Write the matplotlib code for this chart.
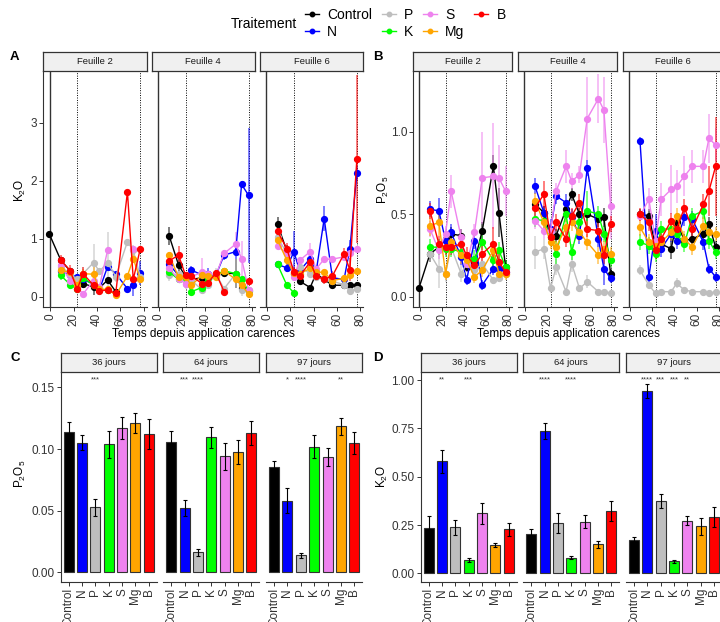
import numpy as np
import matplotlib
matplotlib.use('Agg')
import matplotlib.pyplot as plt
from matplotlib.lines import Line2D

plt.rcParams['font.family'] = ['Liberation Sans', 'DejaVu Sans']
plt.rcParams['mathtext.default'] = 'regular'

nan = np.nan

# Traitements et couleurs
traitements = ['Control', 'N', 'P', 'K', 'S', 'Mg', 'B']
couleurs = ['black', '#0000FF', '#BEBEBE', '#00FF00', '#EE82EE', '#FFA500', '#FF0000']

# Temps (jours depuis application carences)
temps = [-1, 9, 17, 23, 28, 37, 42, 49, 56, 66, 71, 77]

# ---- A : K2O ----
k2o_f2 = {
    'Control': [1.09, 0.63, 0.45, 0.18, 0.23, 0.17, 0.15, 0.29, 0.09, nan, nan, nan],
    'N': [nan, 0.44, 0.38, 0.34, 0.30, 0.22, 0.12, 0.52, 0.40, 0.14, 0.20, 0.41],
    'P': [nan, 0.52, 0.40, 0.30, 0.40, 0.59, 0.44, 0.59, 0.35, 0.95, 0.80, 0.35],
    'K': [nan, 0.37, 0.21, 0.13, 0.33, 0.20, 0.12, 0.11, nan, nan, nan, nan],
    'S': [nan, 0.55, 0.27, 0.17, 0.05, 0.28, 0.17, 0.80, nan, nan, 0.83, nan],
    'Mg': [nan, 0.46, 0.42, 0.20, 0.40, 0.39, 0.13, 0.13, 0.03, 0.36, 0.66, 0.30],
    'B': [nan, 0.63, 0.45, 0.13, 0.40, 0.20, 0.10, 0.12, 0.06, 1.81, 0.30, 0.83],
}
k2o_f2_err = {
    'Control': [0.02, 0.04, 0.04, 0.05, 0.08, 0.14, 0.04, 0.04, 0.03, nan, nan, nan],
    'N': [nan, 0.06, 0.05, 0.05, 0.05, 0.05, 0.03, 0.06, 0.03, 0.04, 0.18, 0.20],
    'P': [nan, 0.06, 0.05, 0.06, 0.12, 0.32, 0.05, 0.52, 0.10, 0.05, 0.10, 0.05],
    'K': [nan, 0.08, 0.05, 0.04, 0.05, 0.05, 0.03, 0.03, nan, nan, nan, nan],
    'S': [nan, 0.05, 0.05, 0.05, 0.04, 0.06, 0.05, 0.06, nan, nan, 0.05, nan],
    'Mg': [nan, 0.06, 0.05, 0.05, 0.08, 0.12, 0.04, 0.04, 0.02, 0.04, 0.08, 0.05],
    'B': [nan, 0.10, 0.10, 0.06, 0.12, 0.06, 0.04, 0.04, 0.03, 0.04, 0.05, 0.05],
}
k2o_f4 = {
    'Control': [nan, 1.05, 0.55, 0.35, 0.30, 0.33, 0.35, 0.40, 0.41, 0.40, 0.16, nan],
    'N': [nan, 0.56, 0.37, 0.33, 0.46, 0.38, 0.40, 0.37, 0.72, 0.78, 1.94, 1.75],
    'P': [nan, 0.37, 0.40, 0.23, 0.29, 0.12, 0.20, 0.40, 0.14, 0.40, 0.12, 0.12],
    'K': [nan, 0.43, 0.30, 0.32, 0.09, 0.16, 0.33, 0.37, 0.45, 0.40, 0.30, 0.10],
    'S': [nan, 0.49, 0.30, 0.23, 0.35, 0.42, 0.40, 0.37, 0.75, 0.91, 0.66, 0.12],
    'Mg': [nan, 0.72, 0.34, 0.34, 0.20, 0.37, 0.36, 0.34, 0.45, 0.30, 0.20, 0.05],
    'B': [nan, 0.62, 0.72, 0.37, 0.36, 0.23, 0.24, 0.41, 0.09, nan, nan, 0.28],
}
k2o_f4_err = {
    'Control': [nan, 0.15, 0.10, 0.05, 0.05, 0.05, 0.05, 0.05, 0.05, 0.25, 0.03, nan],
    'N': [nan, 0.05, 0.05, 0.05, 0.08, 0.06, 0.10, 0.06, 0.08, 0.12, 0.05, 1.17],
    'P': [nan, 0.10, 0.05, 0.10, 0.05, 0.05, 0.05, 0.10, 0.05, 0.25, 0.10, 0.05],
    'K': [nan, 0.05, 0.05, 0.05, 0.04, 0.04, 0.05, 0.05, 0.05, 0.05, 0.05, 0.04],
    'S': [nan, 0.05, 0.05, 0.05, 0.05, 0.25, 0.05, 0.05, 0.05, 0.21, 0.30, 0.05],
    'Mg': [nan, 0.05, 0.05, 0.05, 0.05, 0.05, 0.05, 0.05, 0.05, 0.05, 0.05, 0.03],
    'B': [nan, 0.05, 0.15, 0.05, 0.05, 0.05, 0.05, 0.05, 0.06, nan, nan, 0.05],
}
k2o_f6 = {
    'Control': [nan, 1.25, 0.79, 0.40, 0.27, 0.16, 0.40, 0.30, 0.20, 0.20, 0.21, 0.21],
    'N': [nan, 0.56, 0.50, 0.78, 0.45, 0.66, 0.42, 1.35, 0.33, 0.30, 0.83, 2.14],
    'P': [nan, 1.03, 0.75, 0.41, 0.52, 0.40, 0.35, 0.30, 0.27, 0.21, 0.10, 0.14],
    'K': [nan, 0.56, 0.20, 0.07, nan, nan, nan, nan, nan, nan, nan, nan],
    'S': [nan, 0.88, 0.75, 0.34, 0.63, 0.78, 0.48, 0.65, 0.65, 0.69, 0.75, 0.82],
    'Mg': [nan, 0.98, 0.63, 0.41, 0.40, 0.49, 0.43, 0.42, 0.28, 0.32, 0.37, 0.44],
    'B': [nan, 1.13, 0.83, 0.43, 0.36, 0.60, 0.36, 0.30, 0.36, 0.74, 0.47, 2.38],
}
k2o_f6_err = {
    'Control': [nan, 0.12, 0.10, 0.05, 0.05, 0.03, 0.05, 0.05, 0.04, 0.03, 0.03, 0.03],
    'N': [nan, 0.05, 0.08, 0.35, 0.05, 0.07, 0.05, 0.22, 0.05, 0.05, 0.15, 0.12],
    'P': [nan, 0.10, 0.10, 0.05, 0.05, 0.05, 0.05, 0.05, 0.05, 0.05, 0.05, 0.05],
    'K': [nan, 0.05, 0.05, 0.03, nan, nan, nan, nan, nan, nan, nan, nan],
    'S': [nan, 0.05, 0.05, 0.05, 0.05, 0.15, 0.05, 0.05, 0.05, 0.05, 0.10, 0.05],
    'Mg': [nan, 0.05, 0.08, 0.05, 0.05, 0.05, 0.05, 0.05, 0.05, 0.05, 0.05, 0.05],
    'B': [nan, 0.10, 0.10, 0.08, 0.08, 0.08, 0.08, 0.08, 0.08, 0.10, 0.20, 1.45],
}

# ---- B : P2O5 ----
p2o5_f2 = {
    'Control': [0.05, 0.26, 0.30, 0.35, 0.38, 0.37, 0.18, 0.21, 0.40, 0.79, 0.51, 0.18],
    'N': [nan, 0.53, 0.52, 0.34, 0.39, 0.24, 0.10, 0.34, 0.07, 0.17, 0.17, 0.15],
    'P': [nan, 0.26, 0.17, 0.14, 0.30, 0.14, 0.20, 0.16, 0.20, 0.10, 0.11, 0.14],
    'K': [nan, 0.30, 0.30, 0.29, 0.29, 0.27, 0.23, 0.23, 0.33, 0.22, 0.28, 0.18],
    'S': [nan, 0.41, 0.28, 0.38, 0.64, 0.36, 0.20, 0.39, 0.72, 0.73, 0.72, 0.64],
    'Mg': [nan, 0.43, 0.45, 0.14, 0.33, 0.25, 0.22, 0.12, 0.16, 0.28, 0.14, 0.14],
    'B': [nan, 0.52, 0.32, 0.30, 0.30, 0.32, 0.25, 0.19, 0.26, 0.32, 0.21, 0.15],
}
p2o5_f2_err = {
    'Control': [0.01, 0.05, 0.04, 0.04, 0.04, 0.04, 0.03, 0.03, 0.05, 0.07, 0.15, 0.04],
    'N': [nan, 0.05, 0.08, 0.05, 0.05, 0.05, 0.03, 0.05, 0.03, 0.04, 0.04, 0.03],
    'P': [nan, 0.05, 0.12, 0.05, 0.05, 0.05, 0.05, 0.05, 0.05, 0.02, 0.02, 0.03],
    'K': [nan, 0.05, 0.05, 0.05, 0.05, 0.05, 0.04, 0.05, 0.05, 0.05, 0.05, 0.04],
    'S': [nan, 0.05, 0.05, 0.05, 0.10, 0.05, 0.05, 0.05, 0.28, 0.32, 0.20, 0.15],
    'Mg': [nan, 0.06, 0.08, 0.04, 0.05, 0.05, 0.05, 0.04, 0.04, 0.05, 0.04, 0.04],
    'B': [nan, 0.05, 0.05, 0.05, 0.05, 0.05, 0.05, 0.05, 0.05, 0.10, 0.05, 0.04],
}
p2o5_f4 = {
    'Control': [nan, 0.56, 0.51, 0.36, 0.37, 0.53, 0.62, 0.50, 0.50, 0.47, 0.48, 0.14],
    'N': [nan, 0.67, 0.51, 0.41, 0.61, 0.57, 0.48, 0.37, 0.78, 0.35, 0.17, 0.11],
    'P': [nan, 0.27, 0.29, 0.05, 0.18, 0.03, 0.20, 0.05, 0.09, 0.03, 0.03, 0.02],
    'K': [nan, 0.47, 0.46, 0.36, 0.26, 0.50, 0.27, 0.45, 0.52, 0.50, 0.38, 0.22],
    'S': [nan, 0.46, 0.40, 0.40, 0.64, 0.79, 0.70, 0.74, 1.08, 1.20, 1.13, 0.55],
    'Mg': [nan, 0.58, 0.45, 0.33, 0.30, 0.42, 0.45, 0.39, 0.33, 0.25, 0.29, 0.26],
    'B': [nan, 0.54, 0.62, 0.36, 0.45, 0.35, 0.49, 0.57, 0.41, 0.40, 0.25, 0.44],
}
p2o5_f4_err = {
    'Control': [nan, 0.04, 0.04, 0.04, 0.04, 0.04, 0.04, 0.04, 0.04, 0.05, 0.06, 0.03],
    'N': [nan, 0.05, 0.04, 0.06, 0.05, 0.05, 0.05, 0.05, 0.05, 0.05, 0.10, 0.03],
    'P': [nan, 0.10, 0.06, 0.03, 0.05, 0.02, 0.05, 0.02, 0.04, 0.01, 0.01, 0.01],
    'K': [nan, 0.05, 0.05, 0.05, 0.08, 0.05, 0.05, 0.05, 0.12, 0.05, 0.05, 0.04],
    'S': [nan, 0.05, 0.05, 0.05, 0.05, 0.10, 0.05, 0.05, 0.25, 0.15, 0.20, 0.20],
    'Mg': [nan, 0.05, 0.05, 0.04, 0.04, 0.05, 0.05, 0.05, 0.05, 0.05, 0.05, 0.04],
    'B': [nan, 0.05, 0.08, 0.05, 0.05, 0.05, 0.05, 0.05, 0.05, 0.05, 0.05, 0.05],
}
p2o5_f6 = {
    'Control': [nan, 0.50, 0.49, 0.30, 0.32, 0.29, 0.45, 0.34, 0.35, 0.38, 0.44, 0.30],
    'N': [nan, 0.945, 0.12, 0.40, 0.29, 0.38, 0.34, 0.48, 0.47, 0.33, 0.17, 0.12],
    'P': [nan, 0.16, 0.07, 0.02, 0.03, 0.03, 0.08, 0.04, 0.03, 0.03, 0.02, 0.03],
    'K': [nan, 0.33, 0.31, 0.26, 0.41, 0.41, 0.38, 0.32, 0.49, 0.52, 0.34, 0.27],
    'S': [nan, 0.49, 0.59, 0.34, 0.59, 0.65, 0.67, 0.73, 0.79, 0.79, 0.96, 0.92],
    'Mg': [nan, 0.42, 0.33, 0.31, 0.33, 0.39, 0.49, 0.35, 0.30, 0.43, 0.39, 0.38],
    'B': [nan, 0.50, 0.45, 0.28, 0.35, 0.46, 0.41, 0.54, 0.41, 0.56, 0.64, 0.79],
}
p2o5_f6_err = {
    'Control': [nan, 0.03, 0.04, 0.04, 0.04, 0.06, 0.06, 0.04, 0.04, 0.04, 0.04, 0.04],
    'N': [nan, 0.02, 0.05, 0.10, 0.05, 0.05, 0.05, 0.05, 0.05, 0.05, 0.03, 0.03],
    'P': [nan, 0.03, 0.02, 0.01, 0.01, 0.01, 0.03, 0.01, 0.01, 0.01, 0.01, 0.01],
    'K': [nan, 0.05, 0.05, 0.05, 0.05, 0.05, 0.05, 0.05, 0.05, 0.05, 0.05, 0.04],
    'S': [nan, 0.03, 0.07, 0.05, 0.10, 0.15, 0.10, 0.12, 0.10, 0.10, 0.15, 0.10],
    'Mg': [nan, 0.05, 0.05, 0.05, 0.05, 0.05, 0.05, 0.05, 0.05, 0.05, 0.05, 0.04],
    'B': [nan, 0.04, 0.05, 0.05, 0.05, 0.05, 0.05, 0.05, 0.05, 0.06, 0.15, 0.30],
}

# ---- C : P2O5 a 36, 64, 97 jours ----
jours = ['36 jours', '64 jours', '97 jours']
p2o5_bar = [[0.114, 0.105, 0.0525, 0.104, 0.117, 0.121, 0.112],
            [0.106, 0.052, 0.016, 0.1096, 0.094, 0.0975, 0.113],
            [0.085, 0.058, 0.0135, 0.102, 0.0935, 0.1185, 0.105]]
p2o5_bar_err = [[0.008, 0.006, 0.007, 0.011, 0.0086, 0.008, 0.012],
                [0.0088, 0.0063, 0.003, 0.0086, 0.011, 0.010, 0.0094],
                [0.0054, 0.010, 0.0024, 0.0094, 0.0075, 0.007, 0.0088]]
p2o5_stars = [['', '', '***', '', '', '', ''],
              ['', '***', '****', '', '', '', ''],
              ['', '*', '****', '', '', '**', '']]

# ---- D : K2O a 36, 64, 97 jours ----
k2o_bar = [[0.236, 0.579, 0.238, 0.067, 0.31, 0.145, 0.228],
           [0.205, 0.736, 0.26, 0.081, 0.267, 0.15, 0.324],
           [0.172, 0.943, 0.374, 0.062, 0.272, 0.243, 0.29]]
k2o_bar_err = [[0.063, 0.059, 0.039, 0.010, 0.053, 0.010, 0.034],
               [0.024, 0.043, 0.050, 0.009, 0.034, 0.017, 0.052],
               [0.017, 0.036, 0.037, 0.009, 0.024, 0.045, 0.052]]
k2o_stars = [['', '**', '', '***', '', '', ''],
             ['', '****', '', '****', '', '', ''],
             ['', '****', '***', '***', '**', '', '']]

W, H = 720, 622
fig = plt.figure(figsize=(W / 100, H / 100), dpi=100)


def axes_px(x0, y0, x1, y1):
    return fig.add_axes([x0 / W, 1 - y1 / H, (x1 - x0) / W, (y1 - y0) / H])


def strip(x0, y0, x1, y1, texte):
    s = axes_px(x0, y0, x1, y1)
    s.set_facecolor('#f0f0f0')
    s.set_xticks([])
    s.set_yticks([])
    for sp in s.spines.values():
        sp.set_color('#333333')
        sp.set_linewidth(0.9)
    s.text(0.5, 0.5, texte, ha='center', va='center', fontsize=6.8, color='#1a1a1a')


def style_axes(ax, premier):
    ax.spines['top'].set_visible(False)
    ax.spines['right'].set_visible(False)
    ax.spines['bottom'].set_color('#333333')
    ax.spines['left'].set_color('#333333')
    ax.tick_params(length=3, width=0.7, color='#333333', labelsize=8.5, labelcolor='#333333', pad=1.5)
    if not premier:
        ax.spines['left'].set_visible(False)
        ax.tick_params(axis='y', left=False, labelleft=False)


def facette_ligne(ax, vals, errs, ylim, yticks, ylabels, premier):
    ax.axvline(-0.5, color='#333333', lw=1.0, zorder=1)
    ax.axvline(23, color='black', lw=0.7, ls=(0, (1, 1.5)), zorder=1)
    ax.axvline(77, color='black', lw=0.7, ls=(0, (1, 1.5)), zorder=1)
    t = np.array(temps, float)
    for nom, c in zip(traitements, couleurs):
        y = np.array(vals[nom], float)
        e = np.array(errs[nom], float)
        ok = ~np.isnan(y)
        ax.vlines(t[ok], (y - e)[ok], (y + e)[ok], color=c, lw=1.3, alpha=0.55, zorder=2)
        ax.plot(t, y, '-o', color=c, ms=4.2, lw=1.0, zorder=3)
    ax.set_xlim(-6, 82.5)
    ax.set_ylim(*ylim)
    ax.set_xticks([0, 20, 40, 60, 80])
    ax.set_xticklabels(['0', '20', '40', '60', '80'], rotation=90)
    ax.set_yticks(yticks)
    ax.set_yticklabels(ylabels)
    style_axes(ax, premier)


def facette_barre(ax, vals, errs, stars, ylim, star_y, yticks, ylabels, premier):
    x = np.arange(1, 8)
    ax.bar(x, vals, width=0.75, color=couleurs, edgecolor='#333333', linewidth=0.8, zorder=2)
    ax.errorbar(x, vals, yerr=errs, fmt='none', ecolor='black', elinewidth=0.8, capsize=1.2,
                capthick=0.8, zorder=3)
    for xi, s in zip(x, stars):
        if s:
            ax.text(xi, star_y, s, ha='center', va='center', fontsize=5.5, color='#333333')
    ax.set_xlim(0.4, 7.6)
    ax.set_ylim(*ylim)
    ax.set_xticks(x)
    ax.set_xticklabels(traitements, rotation=90, va='top')
    ax.set_yticks(yticks)
    ax.set_yticklabels(ylabels)
    style_axes(ax, premier)


# Panels A et B
cols_a = [(43.3, 146.7), (151.7, 255.0), (260.0, 363.3)]
cols_b = [(413.3, 511.7), (518.3, 616.7), (623.3, 721.7)]
feuilles = ['Feuille 2', 'Feuille 4', 'Feuille 6']
donnees_a = [(k2o_f2, k2o_f2_err), (k2o_f4, k2o_f4_err), (k2o_f6, k2o_f6_err)]
donnees_b = [(p2o5_f2, p2o5_f2_err), (p2o5_f4, p2o5_f4_err), (p2o5_f6, p2o5_f6_err)]
for i in range(3):
    x0, x1 = cols_a[i]
    ax = axes_px(x0, 70.7, x1, 306.7)
    facette_ligne(ax, donnees_a[i][0], donnees_a[i][1], (-0.17, 3.9),
                  [0, 1, 2, 3], ['0', '1', '2', '3'], i == 0)
    strip(x0, 52.0, x1, 70.7, feuilles[i])
    x0, x1 = cols_b[i]
    ax = axes_px(x0, 70.7, x1, 306.7)
    facette_ligne(ax, donnees_b[i][0], donnees_b[i][1], (-0.061, 1.37),
                  [0, 0.5, 1.0], ['0.0', '0.5', '1.0'], i == 0)
    strip(x0, 52.0, x1, 70.7, feuilles[i])

# Panels C et D
cols_c = [(60.7, 156.7), (163.3, 259.3), (266.0, 362.3)]
cols_d = [(420.7, 516.7), (523.3, 619.3), (626.0, 722.0)]
for i in range(3):
    x0, x1 = cols_c[i]
    ax = axes_px(x0, 371.7, x1, 581.7)
    facette_barre(ax, p2o5_bar[i], p2o5_bar_err[i], p2o5_stars[i], (-0.0078, 0.1628), 0.1565,
                  [0, 0.05, 0.10, 0.15], ['0.00', '0.05', '0.10', '0.15'], i == 0)
    strip(x0, 352.7, x1, 371.7, jours[i])
    x0, x1 = cols_d[i]
    ax = axes_px(x0, 371.7, x1, 581.7)
    facette_barre(ax, k2o_bar[i], k2o_bar_err[i], k2o_stars[i], (-0.043, 1.043), 1.0,
                  [0, 0.25, 0.5, 0.75, 1.0], ['0.00', '0.25', '0.50', '0.75', '1.00'], i == 0)
    strip(x0, 352.7, x1, 371.7, jours[i])

# Titres d'axes et lettres
fig.text(20 / W, 1 - 190 / H, 'K$_2$O', rotation=90, ha='center', va='center', fontsize=8.5)
fig.text(383 / W, 1 - 190 / H, 'P$_2$O$_5$', rotation=90, ha='center', va='center', fontsize=8.5)
fig.text(20 / W, 1 - 474 / H, 'P$_2$O$_5$', rotation=90, ha='center', va='center', fontsize=8.5)
fig.text(382 / W, 1 - 476 / H, 'K$_2$O', rotation=90, ha='center', va='center', fontsize=8.5)
fig.text(203 / W, 1 - 334 / H, 'Temps depuis application carences', ha='center', va='center', fontsize=8.5)
fig.text(568 / W, 1 - 334 / H, 'Temps depuis application carences', ha='center', va='center', fontsize=8.5)
for lettre, (lx, ly) in zip('ABCD', [(14, 57), (378, 57), (15, 358), (378, 358)]):
    fig.text(lx / W, 1 - ly / H, lettre, ha='center', va='center', fontsize=9.5, fontweight='bold')

# Legende
poignees = [Line2D([0], [0], color=c, marker='o', ms=3.2, lw=1.0) for c in couleurs]
fig.legend(poignees, traitements, ncol=4, loc='upper left', bbox_to_anchor=(305 / W, 1 - 8 / H),
           frameon=False, fontsize=10, handlelength=1.0, handletextpad=0.6, columnspacing=0.7,
           labelspacing=0.2, borderpad=0, borderaxespad=0)
fig.text(231 / W, 1 - 24 / H, 'Traitement', ha='left', va='center', fontsize=10)

fig.savefig('out.png', dpi=100)
